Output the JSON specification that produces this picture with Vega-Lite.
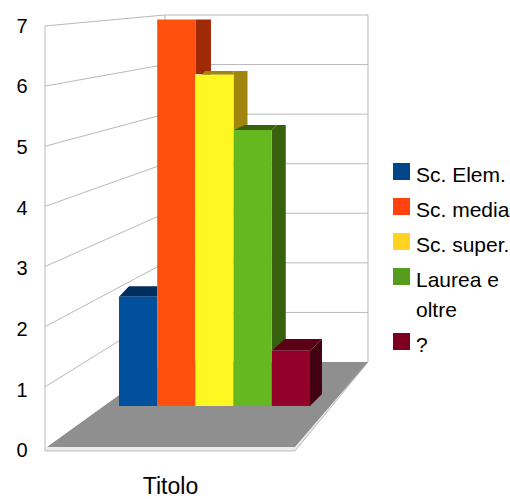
{
"$schema":"https://vega.github.io/schema/vega-lite/v6.json",
"width":510,"height":499,"padding":0,"autosize":{"type":"none"},
"background":"white",
"config":{"view":{"stroke":null},"font":"Liberation Sans","style":{"guide-label":{"lineHeight":30,"dy":4}}},
"resolve":{"scale":{"y":"independent","color":"independent"},"axis":{"x":"independent","y":"independent"}},
"layer":[
{"data":{"values":[
{"part":"lip","x":-1.937,"lo":-0.066,"hi":0},
{"part":"lip","x":4.607,"lo":-0.066,"hi":0},
{"part":"lip","x":6.518,"lo":1.413,"hi":1.413}]},
"mark":{"type":"area","fill":"#ececec"},
"encoding":{
"x":{"field":"x","type":"quantitative","scale":{"domain":[-3.115,10.236],"nice":false,"zero":false},
"axis":{"title":"Titolo","labels":false,"ticks":false,"domain":false,"grid":false,"titleFont":"Liberation Sans","titleFontSize":23,"titleFontWeight":"normal","titleColor":"#000000","titleX":170,"titleY":-1,"titleBaseline":"bottom","titleAnchor":"middle","titleAlign":"center"}},
"y":{"field":"lo","type":"quantitative","scale":{"domain":[-0.865,7.432],"nice":false,"zero":false},"axis":null},
"y2":{"field":"hi"}}},
{"data":{"values":[
{"line":"g1","x":-1.937,"y":1},{"line":"g1","x":1.204,"y":2.237},{"line":"g1","x":6.518,"y":2.237},
{"line":"g2","x":-1.937,"y":2},{"line":"g2","x":1.204,"y":3.062},{"line":"g2","x":6.518,"y":3.062},
{"line":"g3","x":-1.937,"y":3},{"line":"g3","x":1.204,"y":3.886},{"line":"g3","x":6.518,"y":3.886},
{"line":"g4","x":-1.937,"y":4},{"line":"g4","x":1.204,"y":4.71},{"line":"g4","x":6.518,"y":4.71},
{"line":"g5","x":-1.937,"y":5},{"line":"g5","x":1.204,"y":5.535},{"line":"g5","x":6.518,"y":5.535},
{"line":"g6","x":-1.937,"y":6},{"line":"g6","x":1.204,"y":6.359},{"line":"g6","x":6.518,"y":6.359},
{"line":"g7","x":-1.937,"y":7},{"line":"g7","x":1.204,"y":7.183},{"line":"g7","x":6.518,"y":7.183},
{"line":"left","x":-1.937,"y":-0.066},{"line":"left","x":-1.937,"y":7},
{"line":"back","x":1.204,"y":1.413},{"line":"back","x":1.204,"y":7.183},
{"line":"right","x":6.518,"y":1.413},{"line":"right","x":6.518,"y":7.183},
{"line":"edge","x":-1.937,"y":-0.066},{"line":"edge","x":4.607,"y":-0.066},{"line":"edge","x":6.518,"y":1.413}]},
"mark":{"type":"line","stroke":"#b9b9b9","strokeWidth":1},
"encoding":{
"x":{"field":"x","type":"quantitative","scale":{"domain":[-3.115,10.236],"nice":false,"zero":false},"axis":null},
"y":{"field":"y","type":"quantitative","scale":{"domain":[-0.865,7.432],"nice":false,"zero":false},"axis":null},
"detail":{"field":"line"}}},
{"data":{"values":[
{"x":-1.885,"lo":0,"hi":0},{"x":1.204,"lo":0,"hi":1.413},{"x":4.607,"lo":0,"hi":1.413},{"x":6.518,"lo":1.413,"hi":1.413}]},
"mark":{"type":"area","fill":"#8f8f8f"},
"encoding":{
"x":{"field":"x","type":"quantitative","scale":{"domain":[-3.115,10.236],"nice":false,"zero":false},"axis":null},
"y":{"field":"lo","type":"quantitative","scale":{"domain":[-0.865,7.432],"nice":false,"zero":false},"axis":null},
"y2":{"field":"hi"}}},
{"data":{"values":[
{"cat":"Sc. media","x":2,"lo":6.014,"hi":7},{"cat":"Sc. media","x":2.408,"lo":5.996,"hi":7},
{"cat":"Sc. super.","x":3,"lo":5,"hi":6.069},{"cat":"Sc. super.","x":3.364,"lo":5.09,"hi":6.069},
{"cat":"Laurea e oltre","x":4,"lo":1,"hi":5},{"cat":"Laurea e oltre","x":4.136,"lo":1.07,"hi":5.09},{"cat":"Laurea e oltre","x":4.366,"lo":1.214,"hi":5.09},
{"cat":"?","x":5,"lo":0,"hi":1},{"cat":"?","x":5.314,"lo":0.217,"hi":1.214}]},
"mark":{"type":"area"},
"encoding":{
"x":{"field":"x","type":"quantitative","scale":{"domain":[-3.115,10.236],"nice":false,"zero":false},"axis":null},
"y":{"field":"lo","type":"quantitative","scale":{"domain":[-1.685,7.355],"nice":false,"zero":false},"axis":null},
"y2":{"field":"hi"},
"color":{"field":"cat","type":"nominal","legend":null,"scale":{"domain":["Sc. media","Sc. super.","Laurea e oltre","?"],"range":["#a02a06","#a0860f","#37600f","#420012"]}}}},
{"data":{"values":[
{"cat":"Sc. Elem.","x":0,"lo":1.98,"hi":1.98},{"cat":"Sc. Elem.","x":0.262,"lo":1.98,"hi":2.17},{"cat":"Sc. Elem.","x":1,"lo":1.98,"hi":2.17},
{"cat":"Sc. super.","x":2.173,"lo":6,"hi":6},{"cat":"Sc. super.","x":2.251,"lo":6,"hi":6.069},{"cat":"Sc. super.","x":3,"lo":6,"hi":6.069},
{"cat":"Laurea e oltre","x":3,"lo":5,"hi":5},{"cat":"Laurea e oltre","x":3.298,"lo":5,"hi":5.09},{"cat":"Laurea e oltre","x":4,"lo":5,"hi":5.09},{"cat":"Laurea e oltre","x":4.136,"lo":5.09,"hi":5.09},
{"cat":"?","x":4,"lo":1,"hi":1},{"cat":"?","x":4.34,"lo":1,"hi":1.214},{"cat":"?","x":5,"lo":1,"hi":1.214},{"cat":"?","x":5.314,"lo":1.214,"hi":1.214}]},
"mark":{"type":"area"},
"encoding":{
"x":{"field":"x","type":"quantitative","scale":{"domain":[-3.115,10.236],"nice":false,"zero":false},"axis":null},
"y":{"field":"lo","type":"quantitative","scale":{"domain":[-1.685,7.355],"nice":false,"zero":false},"axis":null},
"y2":{"field":"hi"},
"color":{"field":"cat","type":"nominal","legend":null,"scale":{"domain":["Sc. Elem.","Sc. super.","Laurea e oltre","?"],"range":["#002f5f","#a0860f","#37600f","#5c0018"]}}}},
{"data":{"values":[
{"cat":"Sc. Elem.","start":0,"end":1,"value":1.98},
{"cat":"Sc. media","start":1,"end":2,"value":7},
{"cat":"Sc. super.","start":2,"end":3,"value":6},
{"cat":"Laurea e oltre","start":3,"end":4,"value":5},
{"cat":"?","start":4,"end":5,"value":1}]},
"mark":{"type":"rect"},
"encoding":{
"x":{"field":"start","type":"quantitative","scale":{"domain":[-3.115,10.236],"nice":false,"zero":false},"axis":null},
"x2":{"field":"end"},
"y":{"field":"value","type":"quantitative","scale":{"domain":[-1.685,7.355],"nice":false,"zero":false},"axis":null},
"y2":{"datum":0},
"color":{"field":"cat","type":"nominal","legend":null,"scale":{"domain":["Sc. Elem.","Sc. media","Sc. super.","Laurea e oltre","?"],"range":["#00509e","#ff500e","#fff722","#66b821","#93002a"]}}}},
{"data":{"values":[
{"cat":"Sc. Elem.","start":0,"value":0},
{"cat":"Sc. media","start":1,"value":0},
{"cat":"Sc. super.","start":2,"value":0},
{"cat":"Laurea e oltre","start":3,"value":0},
{"cat":"?","start":4,"value":0}]},
"mark":{"type":"point","filled":true,"size":0,"shape":"square"},
"encoding":{
"x":{"field":"start","type":"quantitative","scale":{"domain":[-3.115,10.236],"nice":false,"zero":false},"axis":null},
"y":{"field":"value","type":"quantitative","scale":{"domain":[-0.857,7.363],"nice":false,"zero":false},
"axis":{"title":null,"orient":"left","offset":-45,"values":[0,1,2,3,4,5,6,7],"ticks":false,"domain":false,"grid":false,"labelPadding":18,"labelFont":"Liberation Sans","labelFontSize":20,"labelColor":"#000000"}},
"color":{"field":"cat","type":"nominal","sort":null,
"scale":{"domain":["Sc. Elem.","Sc. media","Sc. super.","Laurea e oltre","?"],"range":["#004586","#ff420e","#ffd320","#579d1c","#7e0021"]},
"legend":{"title":null,"orient":"none","legendX":391,"legendY":161,"symbolType":"square","symbolSize":290,"symbolStrokeWidth":0,"symbolOpacity":1,"labelFont":"Liberation Sans","labelFontSize":21,"labelColor":"#000000","labelLimit":200,"labelOffset":4,"rowPadding":10,"padding":0,
"labelExpr":"datum.label == 'Laurea e oltre' ? ['Laurea e','oltre'] : datum.label"}}}}
]}
